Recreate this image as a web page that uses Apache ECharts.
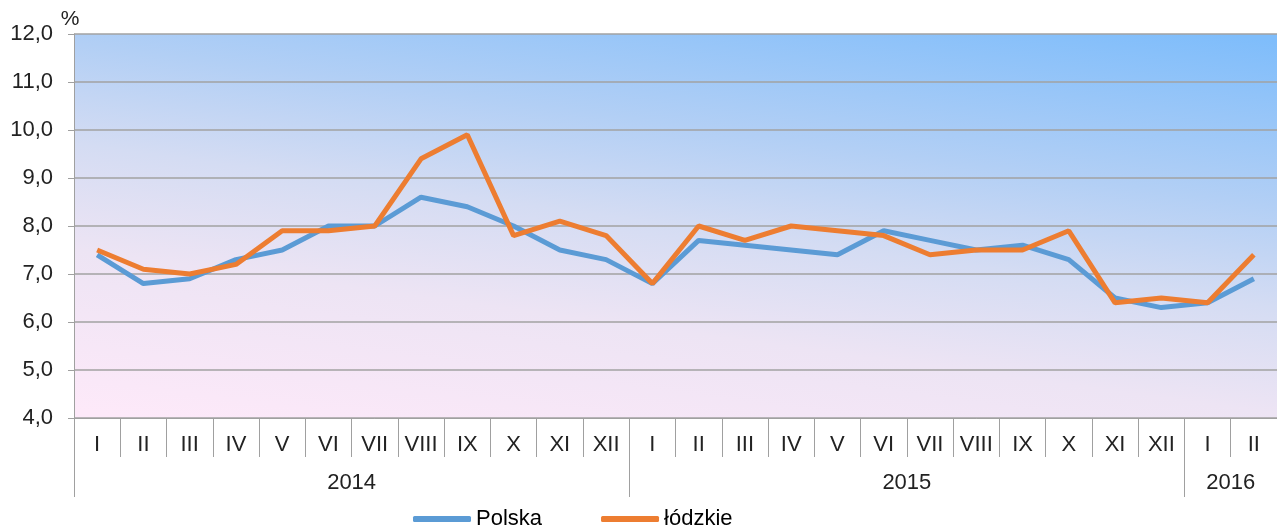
<!DOCTYPE html>
<html>
<head>
<meta charset="utf-8">
<script src="https://cdn.jsdelivr.net/npm/echarts@6/dist/echarts.min.js"></script>
<style>
  html, body { margin: 0; padding: 0; background: #fff; }
  #main { width: 1277px; height: 529px; }
</style>
</head>
<body>
<div id="main"></div>
<script>
// miesiace (cyfry rzymskie) i lata
var months = ['I','II','III','IV','V','VI','VII','VIII','IX','X','XI','XII',
              'I','II','III','IV','V','VI','VII','VIII','IX','X','XI','XII',
              'I','II'];
var years = ['2014', '2015', '2016'];
var yearCenters = [6, 18, 25];
var yearBounds = [0, 12, 24];

var polska = [7.4, 6.8, 6.9, 7.3, 7.5, 8.0, 8.0, 8.6, 8.4, 8.0, 7.5, 7.3,
              6.8, 7.7, 7.6, 7.5, 7.4, 7.9, 7.7, 7.5, 7.6, 7.3, 6.5, 6.3,
              6.4, 6.9];
var lodzkie = [7.5, 7.1, 7.0, 7.2, 7.9, 7.9, 8.0, 9.4, 9.9, 7.8, 8.1, 7.8,
               6.8, 8.0, 7.7, 8.0, 7.9, 7.8, 7.4, 7.5, 7.5, 7.9, 6.4, 6.5,
               6.4, 7.4];

var font = 'Liberation Sans, Arial, sans-serif';
var grey = '#a0a0a0';

// tlo: rozowe u dolu po lewej, niebieskie u gory po prawej
var bg = new echarts.graphic.LinearGradient(80, 410, 151, -112, [
    { offset: 0, color: '#fde9f9' },
    { offset: 0.3, color: '#ede4f4' },
    { offset: 0.5, color: '#d4dcf3' },
    { offset: 0.69, color: '#b2cff5' },
    { offset: 1, color: '#7fbdfb' }
], true);

var chart = echarts.init(document.getElementById('main'));
chart.setOption({
    animation: false,
    grid: {
        left: 74,
        top: 34,
        width: 1213,
        height: 384,
        show: true,
        borderWidth: 0,
        backgroundColor: bg
    },
    legend: {
        left: 408,
        top: 503,
        itemWidth: 58,
        itemHeight: 6,
        itemGap: 59,
        textStyle: { fontFamily: font, fontSize: 22, color: '#000' },
        data: [
            { name: 'Polska', icon: 'roundRect' },
            { name: 'łódzkie', icon: 'roundRect' }
        ]
    },
    xAxis: [{
        type: 'category',
        data: months,
        boundaryGap: true,
        axisLine: { lineStyle: { color: grey, width: 1 } },
        axisTick: { show: true, interval: 0, alignWithLabel: false, length: 39, lineStyle: { color: grey } },
        axisLabel: { interval: 0, margin: 16, fontFamily: font, fontSize: 22, color: '#222' }
    }, {
        type: 'value',
        min: 0,
        max: 26,
        position: 'bottom',
        axisLine: { show: false },
        splitLine: { show: false },
        axisTick: {
            show: true,
            customValues: yearBounds,
            length: 79,
            lineStyle: { color: grey }
        },
        axisLabel: {
            customValues: yearCenters,
            margin: 54,
            fontFamily: font,
            fontSize: 22,
            color: '#222',
            formatter: function (v) {
                return years[yearCenters.indexOf(v)];
            }
        }
    }],
    yAxis: {
        type: 'value',
        min: 4,
        max: 12,
        interval: 1,
        name: '%',
        nameGap: 4,
        nameTextStyle: { fontFamily: font, fontSize: 21, color: '#222', align: 'center', padding: [0, 8, 0, 0] },
        axisLine: { show: true, lineStyle: { color: grey } },
        axisTick: { show: true, length: 6, lineStyle: { color: grey } },
        splitLine: { lineStyle: { color: '#a2a2a2', width: 1.5 } },
        axisLabel: {
            margin: 21,
            fontFamily: font,
            fontSize: 22,
            color: '#222',
            formatter: function (v) { return v.toFixed(1).replace('.', ','); }
        }
    },
    series: [{
        name: 'Polska',
        type: 'line',
        data: polska,
        symbol: 'none',
        lineStyle: { width: 5, color: '#5b9bd5' },
        itemStyle: { color: '#5b9bd5' }
    }, {
        name: 'łódzkie',
        type: 'line',
        data: lodzkie,
        symbol: 'none',
        lineStyle: { width: 5, color: '#ed7d31' },
        itemStyle: { color: '#ed7d31' }
    }]
});
</script>
</body>
</html>
